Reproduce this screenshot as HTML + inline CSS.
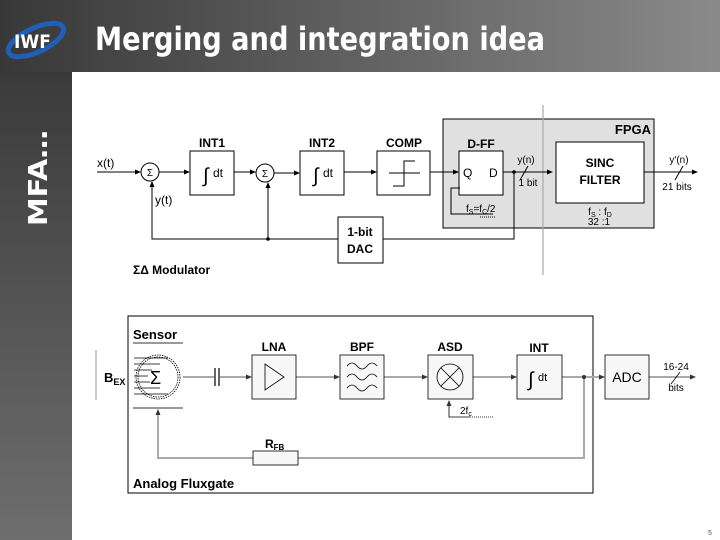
<!DOCTYPE html>
<html><head><meta charset="utf-8"><style>
html,body{margin:0;padding:0;width:720px;height:540px;overflow:hidden;background:#fff}
svg{display:block}
svg{font-family:"Liberation Sans",Arial,sans-serif}
</style></head><body>
<svg width="720" height="540" viewBox="0 0 720 540" xmlns="http://www.w3.org/2000/svg">
<defs>
<linearGradient id="hg" x1="0" x2="1" y1="0" y2="0"><stop offset="0" stop-color="#383838"/><stop offset="1" stop-color="#8a8a8a"/></linearGradient>
<linearGradient id="sg" x1="0" x2="0" y1="0" y2="1"><stop offset="0" stop-color="#3a3a3a"/><stop offset="1" stop-color="#6e6e6e"/></linearGradient>
<marker id="a" markerWidth="6" markerHeight="6" refX="5" refY="3" orient="auto" markerUnits="userSpaceOnUse"><path d="M0,0.5 L6,3 L0,5.5z" fill="#000"/></marker>
</defs>
<rect x="0" y="0" width="720" height="72" fill="url(#hg)"/>
<rect x="0" y="72" width="72" height="468" fill="url(#sg)"/>
<ellipse cx="36" cy="40" rx="30" ry="12" fill="none" stroke="#1f5fb8" stroke-width="5" transform="rotate(-25 36 40)"/>
<text x="14" y="48" font-size="19" fill="#fff" font-weight="bold" style="font-family:'DejaVu Sans Condensed','DejaVu Sans',sans-serif">IWF</text>
<text x="95" y="50" font-size="32" fill="#fff" style="font-family:'DejaVu Sans Condensed','DejaVu Sans',sans-serif;font-weight:bold" textLength="450" lengthAdjust="spacingAndGlyphs">Merging and integration idea</text>
<text transform="translate(47,226) rotate(-90)" font-size="26" fill="#fff" font-weight="bold" style="font-family:'DejaVu Sans',sans-serif" textLength="96" lengthAdjust="spacingAndGlyphs">MFA…</text>

<!-- top diagram -->
<rect x="443" y="119" width="211" height="109" fill="#e0e0e0" stroke="#000" stroke-width="1"/>
<line x1="543" y1="105" x2="543" y2="275" stroke="#aaa" stroke-width="1.2"/>
<text x="651" y="134" font-size="13" font-weight="bold" text-anchor="end">FPGA</text>
<g stroke="#000" stroke-width="1" fill="none">
<line x1="97" y1="172" x2="140" y2="172" marker-end="url(#a)"/>
<circle cx="150" cy="172" r="9" fill="#fff"/>
<line x1="159" y1="172" x2="189" y2="172" marker-end="url(#a)"/>
<rect x="190" y="151" width="44" height="44" fill="#fff"/>
<line x1="234" y1="172" x2="255" y2="172" marker-end="url(#a)"/>
<circle cx="265" cy="173" r="9" fill="#fff"/>
<line x1="274" y1="173" x2="299" y2="173" marker-end="url(#a)"/>
<rect x="300" y="151" width="44" height="44" fill="#fff"/>
<line x1="344" y1="172" x2="376" y2="172" marker-end="url(#a)"/>
<rect x="377" y="151" width="53" height="44" fill="#fff"/>
<path d="M389 173 H420 M393 186 H404 V161 H415"/>
<line x1="430" y1="172" x2="458" y2="172" marker-end="url(#a)"/>
<rect x="459" y="151" width="44" height="44" fill="#fff"/>
<path d="M460 188 H451 V214 H493" />
<line x1="503" y1="172" x2="552" y2="172" marker-end="url(#a)"/>
<line x1="520" y1="180" x2="528" y2="166"/>
<rect x="556" y="142" width="88" height="61" fill="#fff"/>
<line x1="644" y1="172" x2="697" y2="172" marker-end="url(#a)"/>
<line x1="675" y1="180" x2="683" y2="166"/>
<path d="M514 172 V239 H383 M338 239 H152 V182" />
<line x1="152" y1="190" x2="152" y2="182" marker-end="url(#a)"/>
<path d="M268 239 V183"/>
<line x1="268" y1="195" x2="268" y2="183" marker-end="url(#a)"/>
<rect x="338" y="217" width="45" height="46" fill="#fff"/>
</g>
<circle cx="514" cy="172" r="1.8"/><circle cx="268" cy="239" r="1.8"/>
<line x1="480" y1="217" x2="495" y2="217" stroke="#000" stroke-dasharray="1,1"/>
<text x="97" y="167" font-size="12">x(t)</text>
<text x="150" y="176" font-size="10" text-anchor="middle">Σ</text>
<text x="265" y="177" font-size="10" text-anchor="middle">Σ</text>
<text x="155" y="204" font-size="12">y(t)</text>
<text x="212" y="147" font-size="12" font-weight="bold" text-anchor="middle">INT1</text>
<text x="322" y="147" font-size="12" font-weight="bold" text-anchor="middle">INT2</text>
<text x="404" y="147" font-size="12" font-weight="bold" text-anchor="middle">COMP</text>
<text x="481" y="148" font-size="12" font-weight="bold" text-anchor="middle">D-FF</text>
<text x="203" y="182" font-size="20">∫</text><text x="213" y="177" font-size="12">dt</text>
<text x="313" y="182" font-size="20">∫</text><text x="323" y="177" font-size="12">dt</text>
<text x="463" y="177" font-size="12">Q</text><text x="489" y="177" font-size="12">D</text>
<text x="466" y="212" font-size="10">f<tspan font-size="7" dy="2">S</tspan><tspan dy="-2">=f</tspan><tspan font-size="7" dy="2">C</tspan><tspan dy="-2">/2</tspan></text>
<text x="526" y="163" font-size="10" text-anchor="middle">y(n)</text>
<text x="528" y="186" font-size="10" text-anchor="middle">1 bit</text>
<text x="600" y="167" font-size="12" font-weight="bold" text-anchor="middle">SINC</text>
<text x="600" y="184" font-size="12" font-weight="bold" text-anchor="middle">FILTER</text>
<text x="600" y="215" font-size="10" text-anchor="middle">f<tspan font-size="7" dy="2">S</tspan><tspan dy="-2"> : f</tspan><tspan font-size="7" dy="2">D</tspan></text>
<text x="599" y="225" font-size="10" text-anchor="middle">32 :1</text>
<text x="679" y="163" font-size="10" text-anchor="middle">y'(n)</text>
<text x="677" y="190" font-size="10" text-anchor="middle">21 bits</text>
<text x="360" y="236" font-size="12" font-weight="bold" text-anchor="middle">1-bit</text>
<text x="360" y="253" font-size="12" font-weight="bold" text-anchor="middle">DAC</text>
<text x="133" y="274" font-size="12" font-weight="bold">ΣΔ Modulator</text>

<!-- bottom diagram -->
<rect x="128" y="316" width="465" height="177" fill="none" stroke="#000" stroke-width="1"/>
<line x1="96" y1="350" x2="96" y2="400" stroke="#999"/>
<text x="133" y="339" font-size="13" font-weight="bold">Sensor</text>
<line x1="133" y1="343" x2="183" y2="343" stroke="#999" stroke-width="2"/>
<line x1="133" y1="408" x2="183" y2="408" stroke="#999" stroke-width="2"/>
<g stroke="#000" stroke-width="0.8" fill="none">
<circle cx="158" cy="377" r="20" stroke-dasharray="1.5,1"/>
<circle cx="158" cy="377" r="22" stroke-dasharray="1.5,1"/>
<path d="M134 358 H168 M134 364 H160 M134 370 H152 M134 376 H148 M134 382 H150 M134 388 H160 M134 394 H168"/>
</g>
<text x="150" y="384" font-size="18">Σ</text>
<text x="104" y="382" font-size="13" font-weight="bold">B<tspan font-size="9" dy="3">EX</tspan></text>
<g stroke="#aaa" stroke-width="2" fill="none">
<line x1="183" y1="377" x2="214" y2="377"/>
<line x1="220" y1="377" x2="247" y2="377"/>
<line x1="296" y1="377" x2="335" y2="377"/>
<line x1="384" y1="377" x2="423" y2="377"/>
<line x1="473" y1="377" x2="512" y2="377"/>
<line x1="562" y1="377" x2="600" y2="377"/>
<line x1="649" y1="377" x2="690" y2="377"/>
<path d="M584 377 V458 H298 M253 458 H158 V413"/>
</g>
<g fill="#333"><path d="M252 377 l-6 -2.5 v5z"/><path d="M340 377 l-6 -2.5 v5z"/><path d="M428 377 l-6 -2.5 v5z"/><path d="M517 377 l-6 -2.5 v5z"/><path d="M605 377 l-6 -2.5 v5z"/><path d="M696 377 l-6 -2.5 v5z"/><path d="M158 409 l-2.5 6 h5z"/><path d="M449 400 l-2.5 6 h5z"/></g>
<circle cx="584" cy="377" r="2" fill="#333"/>
<line x1="215" y1="368" x2="215" y2="386" stroke="#000" stroke-width="1.2"/>
<line x1="219" y1="368" x2="219" y2="386" stroke="#000" stroke-width="1.2"/>
<g stroke="#000" stroke-width="0.8" fill="#f7f7f7">
<rect x="252" y="355" width="44" height="44"/>
<rect x="340" y="355" width="44" height="44"/>
<rect x="428" y="355" width="45" height="44"/>
<rect x="517" y="355" width="45" height="44"/>
<rect x="605" y="355" width="44" height="44"/>
<rect x="253" y="451" width="45" height="14"/>
</g>
<g stroke="#000" stroke-width="0.8" fill="none">
<path d="M265 364 L284 377 L265 390z"/>
<path d="M347 366 q5 -6 10 0 t10 0 t10 0 M347 377 q5 -6 10 0 t10 0 t10 0 M347 388 q5 -6 10 0 t10 0 t10 0"/>
<circle cx="450" cy="377" r="13"/><path d="M441 368 L459 386 M459 368 L441 386"/>
<path d="M449 406 V417 H470"/>
</g>
<line x1="470" y1="417" x2="494" y2="417" stroke="#000" stroke-width="0.8" stroke-dasharray="1,1"/>
<text x="460" y="414" font-size="10">2f<tspan font-size="7" dy="2">c</tspan></text>
<text x="274" y="351" font-size="12" font-weight="bold" text-anchor="middle">LNA</text>
<text x="362" y="351" font-size="12" font-weight="bold" text-anchor="middle">BPF</text>
<text x="450" y="351" font-size="12" font-weight="bold" text-anchor="middle">ASD</text>
<text x="539" y="352" font-size="12" font-weight="bold" text-anchor="middle">INT</text>
<text x="528" y="386" font-size="20">∫</text><text x="538" y="381" font-size="11">dt</text>
<text x="627" y="382" font-size="14" text-anchor="middle">ADC</text>
<line x1="671" y1="384" x2="680" y2="372" stroke="#000" stroke-width="0.8"/>
<text x="676" y="370" font-size="10" text-anchor="middle">16-24</text>
<text x="676" y="391" font-size="10" text-anchor="middle">bits</text>
<text x="265" y="448" font-size="12" font-weight="bold">R<tspan font-size="8" dy="2">FB</tspan></text>
<text x="133" y="488" font-size="13" font-weight="bold">Analog Fluxgate</text>
<text x="708" y="535" font-size="7" fill="#555">5</text>
</svg>
</body></html>
